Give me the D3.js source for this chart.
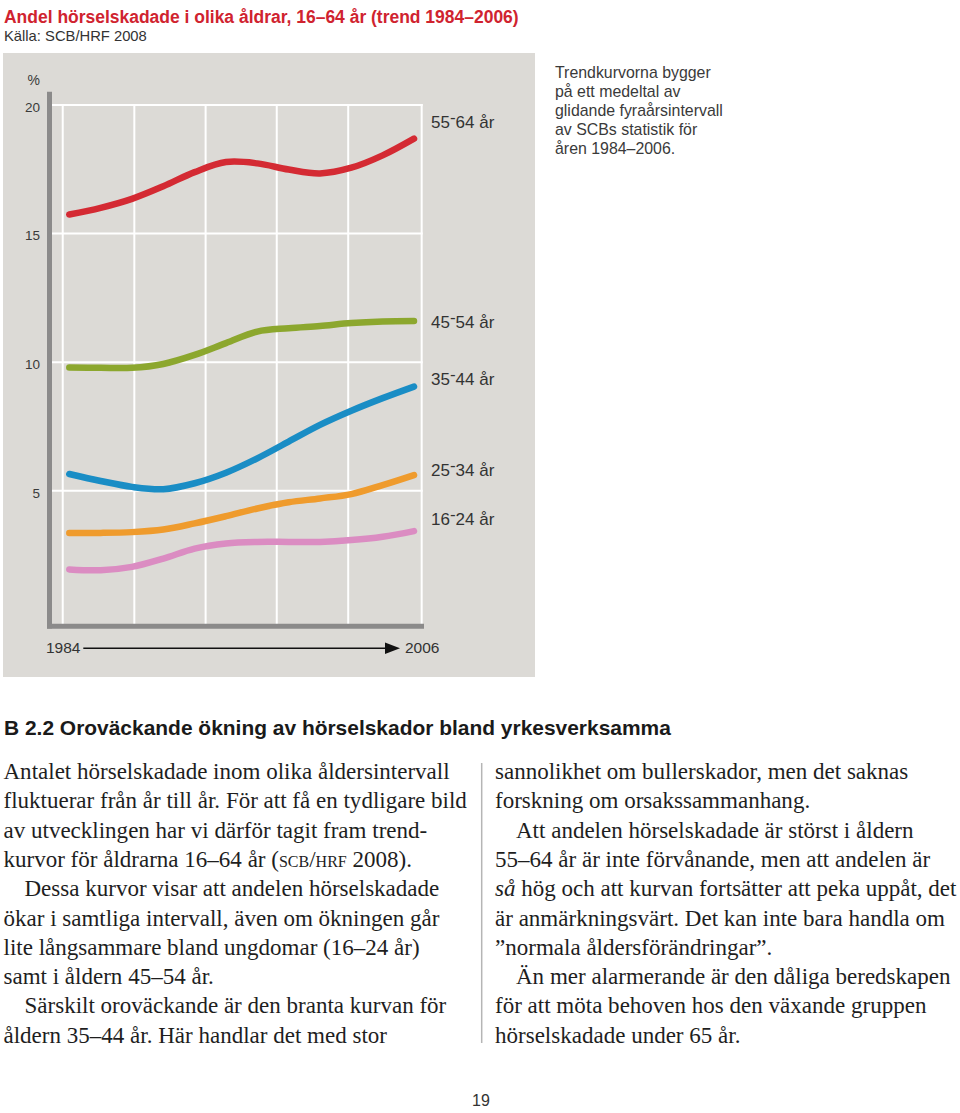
<!DOCTYPE html>
<html><head><meta charset="utf-8">
<script src="https://cdn.jsdelivr.net/npm/d3@7"></script>
<style>html,body{margin:0;padding:0;background:#fff;}svg{display:block;}</style>
</head><body>
<svg id="c" width="960" height="1113"></svg>
<script>
// ---- data ----
const years = [1984,1986,1988,1990,1992,1994,1996,1998,2000,2002,2004,2006];
const ageGroups = ["55-64 år","45-54 år","35-44 år","25-34 år","16-24 år"];
const v5564 = [15.74,16.00,16.35,16.84,17.39,17.78,17.73,17.49,17.34,17.56,18.04,18.69];
const v4554 = [9.79,9.78,9.78,9.93,10.28,10.74,11.19,11.32,11.41,11.52,11.58,11.60];
const v3544 = [5.65,5.38,5.15,5.06,5.29,5.70,6.26,6.91,7.56,8.11,8.60,9.05];
const v2534 = [3.36,3.36,3.39,3.49,3.73,4.01,4.31,4.55,4.70,4.87,5.22,5.61];
const v1624 = [1.94,1.91,2.04,2.36,2.75,2.95,3.01,3.01,3.01,3.08,3.21,3.43];
const yTicks = [5,10,15,20];
const gridYears = [1983.58,1988.15,1992.7,1997.24,2001.8,2006.49];
const xEndLabels = ["1984","2006"];
const titleText = "Andel hörselskadade i olika åldrar, 16–64 år (trend 1984–2006)";
const sourceText = "Källa: SCB/HRF 2008";
const noteLines = ["Trendkurvorna bygger","på ett medeltal av","glidande fyraårsintervall","av SCBs statistik för","åren 1984–2006."];
const headingText = "B 2.2 Oroväckande ökning av hörselskador bland yrkesverksamma";
const leftLines = [
 ["Antalet hörselskadade inom olika åldersintervall",0],
 ["fluktuerar från år till år. För att få en tydligare bild",0],
 ["av utvecklingen har vi därför tagit fram trend-",0],
 ["kurvor för åldrarna 16–64 år (|scb/hrf| 2008).",0],
 ["Dessa kurvor visar att andelen hörselskadade",1],
 ["ökar i samtliga intervall, även om ökningen går",0],
 ["lite långsammare bland ungdomar (16–24 år)",0],
 ["samt i åldern 45–54 år.",0],
 ["Särskilt oroväckande är den branta kurvan för",1],
 ["åldern 35–44 år. Här handlar det med stor",0]
];
const rightLines = [
 ["sannolikhet om bullerskador, men det saknas",0],
 ["forskning om orsakssammanhang.",0],
 ["Att andelen hörselskadade är störst i åldern",1],
 ["55–64 år är inte förvånande, men att andelen är",0],
 ["*så* hög och att kurvan fortsätter att peka uppåt, det",0],
 ["är anmärkningsvärt. Det kan inte bara handla om",0],
 ["”normala åldersförändringar”.",0],
 ["Än mer alarmerande är den dåliga beredskapen",1],
 ["för att möta behoven hos den växande gruppen",0],
 ["hörselskadade under 65 år.",0]
];
const pageNumber = "19";

// ---- styles / layout ----
const series = [
  {name: ageGroups[0], values: v5564, color: "#d42a33", dy: -11},
  {name: ageGroups[1], values: v4554, color: "#8ca72e", dy: 7},
  {name: ageGroups[2], values: v3544, color: "#1a8dc5", dy: -1.7},
  {name: ageGroups[3], values: v2534, color: "#ef9b2d", dy: 0.7},
  {name: ageGroups[4], values: v1624, color: "#db8cc2", dy: -6}
];
const SANS = "'Liberation Sans', Arial, Helvetica, sans-serif";
const SERIF = "'Liberation Serif', 'Times New Roman', serif";
const svg = d3.select("#c");
const x = d3.scaleLinear().domain([1984, 2006]).range([69.3, 414]);
const y = d3.scaleLinear().domain([0, 20]).range([619.3, 105]);

function fitWidth(sel, w) {
  const l = sel.node().getComputedTextLength();
  const fs = parseFloat(sel.attr("font-size"));
  sel.attr("font-size", fs * w / l);
  return fs * w / l;
}

// title
const t = svg.append("text").attr("x", 4).attr("y", 22.5).attr("font-family", SANS)
  .attr("font-weight", "bold").attr("font-size", 17).attr("fill", "#d0232f").text(titleText);
fitWidth(t, 515);
const s = svg.append("text").attr("x", 4).attr("y", 41).attr("font-family", SANS)
  .attr("font-size", 14).attr("fill", "#333").text(sourceText);
fitWidth(s, 143);

// panel
svg.append("rect").attr("x", 3).attr("y", 53).attr("width", 532).attr("height", 624).attr("fill", "#dcdad6");

// gridlines
const g = svg.append("g");
g.selectAll("line.h").data(yTicks).join("line")
  .attr("x1", 52).attr("x2", x(gridYears[gridYears.length-1]) + 1)
  .attr("y1", d => y(d)).attr("y2", d => y(d))
  .attr("stroke", "#fff").attr("stroke-width", 2);
g.selectAll("line.v").data(gridYears).join("line")
  .attr("x1", d => x(d)).attr("x2", d => x(d))
  .attr("y1", y(20) - 1).attr("y2", 624)
  .attr("stroke", "#fff").attr("stroke-width", 2);

// axes (thick gray)
svg.append("line").attr("x1", 49.5).attr("x2", 49.5).attr("y1", 91.7).attr("y2", 628.6)
  .attr("stroke", "#8b8a8a").attr("stroke-width", 5);
svg.append("line").attr("x1", 47).attr("x2", 424).attr("y1", 626.2).attr("y2", 626.2)
  .attr("stroke", "#8b8a8a").attr("stroke-width", 5);

// y tick labels
const yAxis = d3.axisLeft(y).tickValues(yTicks).tickSize(0).tickPadding(0);
const ya = svg.append("g").attr("transform", "translate(40,0)").call(yAxis);
ya.select(".domain").remove();
ya.selectAll("text").attr("font-family", SANS).attr("font-size", 13.5).attr("fill", "#3a3a3a")
  .attr("dy", null).attr("y", 6.3).attr("text-anchor", "end").attr("x", 0);
svg.append("text").attr("x", 40).attr("y", 85).attr("text-anchor", "end")
  .attr("font-family", SANS).attr("font-size", 14).attr("fill", "#3a3a3a").text("%");

// lines
const line = d3.line().x((d, i) => x(years[i])).y(d => y(d)).curve(d3.curveCatmullRom.alpha(0.5));
svg.append("g").selectAll("path").data(series).join("path")
  .attr("d", d => line(d.values)).attr("fill", "none")
  .attr("stroke", d => d.color).attr("stroke-width", 6.5)
  .attr("stroke-linecap", "round").attr("stroke-linejoin", "round");

// series labels
const lab = svg.append("g").selectAll("text").data(series).join("text")
  .attr("x", 431).attr("y", d => y(d.values[d.values.length-1]) + d.dy)
  .attr("font-family", SANS).attr("font-size", 17).attr("fill", "#333");
lab.each(function(d) {
  const parts = d.name.split("-");
  const el = d3.select(this);
  el.append("tspan").text(parts[0]);
  el.append("tspan").attr("dy", -5).text("-");
  el.append("tspan").attr("dy", 5).text(parts[1]);
});

// x end labels + arrow
svg.append("text").attr("x", 46).attr("y", 653).attr("font-family", SANS).attr("font-size", 15.5)
  .attr("fill", "#333").text(xEndLabels[0]);
svg.append("text").attr("x", 405).attr("y", 653).attr("font-family", SANS).attr("font-size", 15.5)
  .attr("fill", "#333").text(xEndLabels[1]);
svg.append("line").attr("x1", 83.3).attr("x2", 388).attr("y1", 648.3).attr("y2", 648.3)
  .attr("stroke", "#111").attr("stroke-width", 1.4);
svg.append("path").attr("d", "M385,642.6 L400,648.3 L385,654 Z").attr("fill", "#111");

// note
const note = svg.append("g");
const nl = note.selectAll("text").data(noteLines).join("text")
  .attr("x", 555).attr("y", (d, i) => 78.3 + i * 18.8)
  .attr("font-family", SANS).attr("font-size", 14.5).attr("fill", "#3a3a3a").text(d => d);
const nfs = fitWidth(nl.filter((d, i) => i === 2), 168);
nl.attr("font-size", nfs);

// heading
const h = svg.append("text").attr("x", 4).attr("y", 735).attr("font-family", SANS)
  .attr("font-weight", "bold").attr("font-size", 20).attr("fill", "#1a1a1a").text(headingText);
fitWidth(h, 667);

// body text
function addLine(sel, str) {
  const segs = str.split(/(\|[^|]*\||\*[^*]*\*)/).filter(s => s.length);
  segs.forEach(sg => {
    if (sg[0] === "|") sel.append("tspan").style("font-variant", "small-caps").text(sg.slice(1, -1));
    else if (sg[0] === "*") sel.append("tspan").attr("font-style", "italic").text(sg.slice(1, -1));
    else sel.append("tspan").text(sg);
  });
}
function column(lines, x0) {
  const gg = svg.append("g");
  gg.selectAll("text").data(lines).join("text")
    .attr("x", d => x0 + (d[1] ? 21 : 0)).attr("y", (d, i) => 779 + i * 29.3)
    .attr("font-family", SERIF).attr("font-size", 20).attr("fill", "#1e1e1e")
    .each(function(d) { addLine(d3.select(this), d[0]); });
  return gg;
}
const lc = column(leftLines, 3.5);
const rc = column(rightLines, 495);
const firstLeft = lc.select("text");
const bfs = fitWidth(firstLeft, 446.5);
lc.selectAll("text").attr("font-size", bfs);
rc.selectAll("text").attr("font-size", bfs);

// separator
svg.append("line").attr("x1", 481.7).attr("x2", 481.7).attr("y1", 763).attr("y2", 1043)
  .attr("stroke", "#b5b5b5").attr("stroke-width", 1.5);

// page number
svg.append("text").attr("x", 481).attr("y", 1106).attr("text-anchor", "middle")
  .attr("font-family", SANS).attr("font-size", 16).attr("fill", "#333").text(pageNumber);
</script>
</body></html>
